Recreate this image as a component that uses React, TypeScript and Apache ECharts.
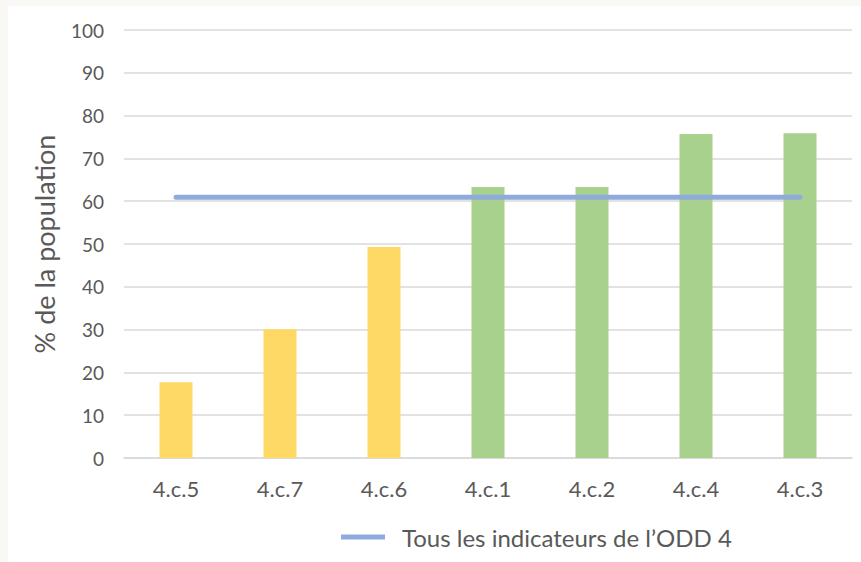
import React, { useEffect, useRef } from "react";
import * as echarts from "echarts";

const categories = ["4.c.5", "4.c.7", "4.c.6", "4.c.1", "4.c.2", "4.c.4", "4.c.3"];
const values = [17.7, 30.1, 49.3, 63.3, 63.3, 75.7, 75.9];
const barColors = ["#ffd966", "#ffd966", "#ffd966", "#a9d18e", "#a9d18e", "#a9d18e", "#a9d18e"];
const averageValue = 60.9;
const averageName = "Tous les indicateurs de l\u2019ODD 4";
const yAxisName = "% de la population";

export default function App() {
  const ref = useRef<HTMLDivElement>(null);
  useEffect(() => {
    if (!ref.current) return;
    const chart = echarts.init(ref.current, undefined, { renderer: "svg" });
    const font = "Lato";
    const textColor = "#595959";
    chart.setOption({
      animation: false,
      backgroundColor: "#f9f8f4",
      graphic: [
        { type: "rect", z: -10, shape: { x: 8, y: 6, width: 853, height: 556 }, style: { fill: "#ffffff" }, silent: true },
      ],
      grid: { left: 124, right: 9, top: 30, bottom: 104, containLabel: false },
      legend: {
        left: 336,
        top: 520,
        itemWidth: 44,
        itemHeight: 14,
        itemGap: 10,
        textStyle: { fontFamily: font, fontSize: 24, color: textColor, padding: [0, 0, 0, 12] },
        data: [{ name: averageName, icon: "path://M0,0 L44,0 L44,5 L0,5 Z" }],
      },
      xAxis: {
        type: "category",
        data: categories,
        axisLine: { lineStyle: { color: "#d9d9d9", width: 1.5 } },
        axisTick: { show: false },
        axisLabel: { fontFamily: font, fontSize: 22, color: textColor, margin: 19 },
      },
      yAxis: {
        type: "value",
        min: 0,
        max: 100,
        interval: 10,
        name: yAxisName,
        nameLocation: "middle",
        nameGap: 66,
        nameTextStyle: { fontFamily: font, fontSize: 27, color: textColor },
        axisLine: { show: false },
        axisTick: { show: false },
        axisLabel: { fontFamily: font, fontSize: 19, color: textColor, margin: 20 },
        splitLine: { lineStyle: { color: "#d9d9d9", width: 1.5 } },
      },
      series: [
        {
          type: "bar",
          barWidth: 33,
          data: values.map((v, i) => ({ value: v, itemStyle: { color: barColors[i] } })),
        },
        {
          type: "line",
          name: averageName,
          data: categories.map(() => averageValue),
          symbol: "none",
          lineStyle: { color: "#8faadc", width: 5, cap: "round" },
          itemStyle: { color: "#8faadc" },
          z: 5,
        },
      ],
    });
    return () => chart.dispose();
  }, []);
  return (
    <div
      ref={ref}
      style={{ position: "fixed", left: 0, top: 0, width: 861, height: 562 }}
    />
  );
}
